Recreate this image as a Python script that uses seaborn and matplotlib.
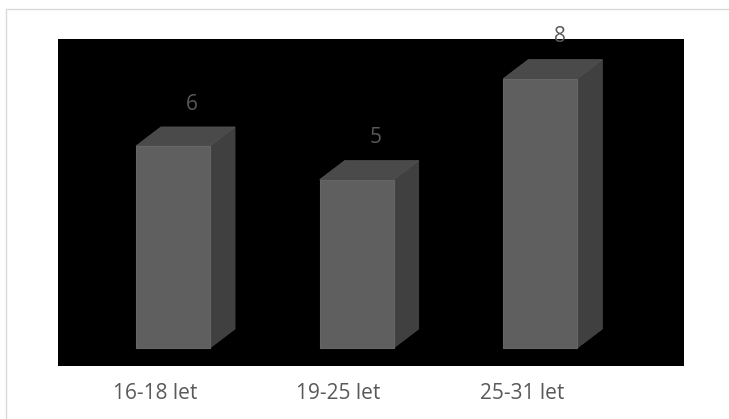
import matplotlib
matplotlib.use("Agg")
import matplotlib.pyplot as plt
from matplotlib.patches import Polygon, Rectangle
import numpy as np
import pandas as pd
import seaborn as sns

# Data
categories = ["16-18 let", "19-25 let", "25-31 let"]
values = [6, 5, 8]

W, H, DPI = 729, 419, 100
sns.set_theme(style="white")
plt.rcParams["font.family"] = ["Open Sans", "DejaVu Sans"]

fig = plt.figure(figsize=(W / DPI, H / DPI), dpi=DPI)
fig.patch.set_facecolor("white")

# chart frame (light border)
fig.add_artist(Rectangle((6 / W, -0.01), (W - 6) / W + 0.01, (H - 9) / H + 0.01,
                         transform=fig.transFigure, fill=False,
                         edgecolor="#d9d9d9", linewidth=1.0, clip_on=False))

# plot area
ax = fig.add_axes([58 / W, (H - 366) / H, 626 / W, 327 / H])
ax.set_facecolor("black")

df = pd.DataFrame({"cat": categories, "val": values})
bar_w = 0.403
sns.barplot(data=df, x="cat", y="val", ax=ax, width=bar_w,
            color="#5f5f5f", saturation=1, edgecolor="#666666", linewidth=0.8)

ax.set_xlim(-0.626, 2.782)
ax.set_ylim(-0.535, 9.177)

# depth of the 3D prism in data units
dx, dy = 0.136, 0.564
for p in ax.patches:
    x0 = p.get_x()
    x1 = x0 + p.get_width()
    h = p.get_height()
    side = Polygon([(x1, 0), (x1 + dx, dy), (x1 + dx, h + dy), (x1, h)],
                   closed=True, facecolor="#404040", edgecolor="#454545",
                   linewidth=0.6, zorder=p.get_zorder() - 0.1)
    top = Polygon([(x0, h), (x0 + dx, h + dy), (x1 + dx, h + dy), (x1, h)],
                  closed=True, facecolor="#4a4a4a", edgecolor="#505050",
                  linewidth=0.6, zorder=p.get_zorder() - 0.1)
    ax.add_patch(side)
    ax.add_patch(top)
    ax.text(p.get_x() + p.get_width() / 2 + 0.105, h + dy + 0.68, f"{h:g}",
            ha="center", va="center", color="#595959", fontsize=15,
            clip_on=False, zorder=5)

# category labels sit slightly left of the bar centres
shift = 0.098
ax.set_xticks(np.arange(len(categories)) - shift, labels=categories)
ax.tick_params(axis="x", length=0, pad=12, labelsize=15, labelcolor="#595959")
ax.set_yticks([])
ax.set_xlabel("")
ax.set_ylabel("")
for s in ax.spines.values():
    s.set_visible(False)

fig.savefig("out.png", dpi=DPI, facecolor="white")
